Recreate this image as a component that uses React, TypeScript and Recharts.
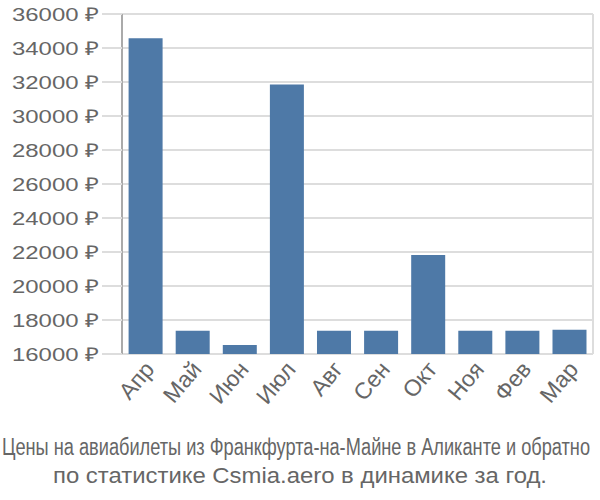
import { BarChart, Bar, XAxis, YAxis, CartesianGrid } from "recharts";

const months = ["Апр", "Май", "Июн", "Июл", "Авг", "Сен", "Окт", "Ноя", "Фев", "Мар"];
const prices = [34570, 17370, 16530, 31860, 17370, 17370, 21820, 17370, 17370, 17430];
const yTicks = [16000, 18000, 20000, 22000, 24000, 26000, 28000, 30000, 32000, 34000, 36000];
const boundaryTicks = [0, 1, 2, 3, 4, 5, 6, 7, 8, 9, 10];
const captionLines = [
  "Цены на авиабилеты из Франкфурта-на-Майне в Аликанте и обратно",
  "по статистике Csmia.aero в динамике за год.",
];

const data = months.map((m, i) => ({ month: m, price: prices[i] }));

const font = "'Liberation Sans', Arial, sans-serif";

function MonthTick({ x, y, payload }: any) {
  return (
    <g transform={`translate(${x + 3},${y + 2})`}>
      <text
        textAnchor="end"
        transform="rotate(-50)"
        dy="0.4em"
        fontSize={23}
        fill="#666"
        fontFamily={font}
      >
        {payload.value}
      </text>
    </g>
  );
}

function PriceTick({ x, y, payload }: any) {
  return (
    <text
      x={x}
      y={y}
      dy="0.36em"
      textAnchor="end"
      fontSize={19}
      fill="#666"
      fontFamily={font}
      textLength={87}
      lengthAdjust="spacingAndGlyphs"
    >
      {`${payload.value} ₽`}
    </text>
  );
}

export default function App() {
  return (
    <div style={{ position: "absolute", left: 0, top: 0, width: 600, height: 500, background: "#fff" }}>
      <BarChart
        width={600}
        height={430}
        data={data}
        margin={{ top: 14, right: 7, bottom: 0, left: 0 }}
        barCategoryGap="14%"
      >
        <CartesianGrid xAxisId="b" stroke="#dddddd" strokeWidth={2} />
        <XAxis
          xAxisId="b"
          type="number"
          domain={[0, 10]}
          ticks={boundaryTicks}
          allowDataOverflow
          tick={false}
          tickSize={20}
          height={0}
          stroke="#dddddd"
          strokeWidth={2}
        />
        <XAxis
          dataKey="month"
          interval={0}
          height={76}
          axisLine={false}
          tickLine={false}
          tick={<MonthTick />}
        />
        <YAxis
          domain={[16000, 36000]}
          ticks={yTicks}
          allowDataOverflow
          width={122}
          tickSize={20}
          tickMargin={3}
          axisLine={{ stroke: "#aaaaaa", strokeWidth: 2 }}
          tickLine={{ stroke: "#dddddd", strokeWidth: 2 }}
          tick={<PriceTick />}
        />
        <Bar dataKey="price" fill="#4e79a7" isAnimationActive={false} />
      </BarChart>
      <svg width={600} height={70} style={{ position: "absolute", left: 0, top: 430 }}>
        <text
          x={296}
          y={25}
          textAnchor="middle"
          fontSize={23}
          fill="#666"
          fontFamily={font}
          textLength={588}
          lengthAdjust="spacingAndGlyphs"
        >
          {captionLines[0]}
        </text>
        <text
          x={300}
          y={53}
          textAnchor="middle"
          fontSize={22}
          fill="#666"
          fontFamily={font}
          textLength={494}
          lengthAdjust="spacingAndGlyphs"
        >
          {captionLines[1]}
        </text>
      </svg>
    </div>
  );
}
